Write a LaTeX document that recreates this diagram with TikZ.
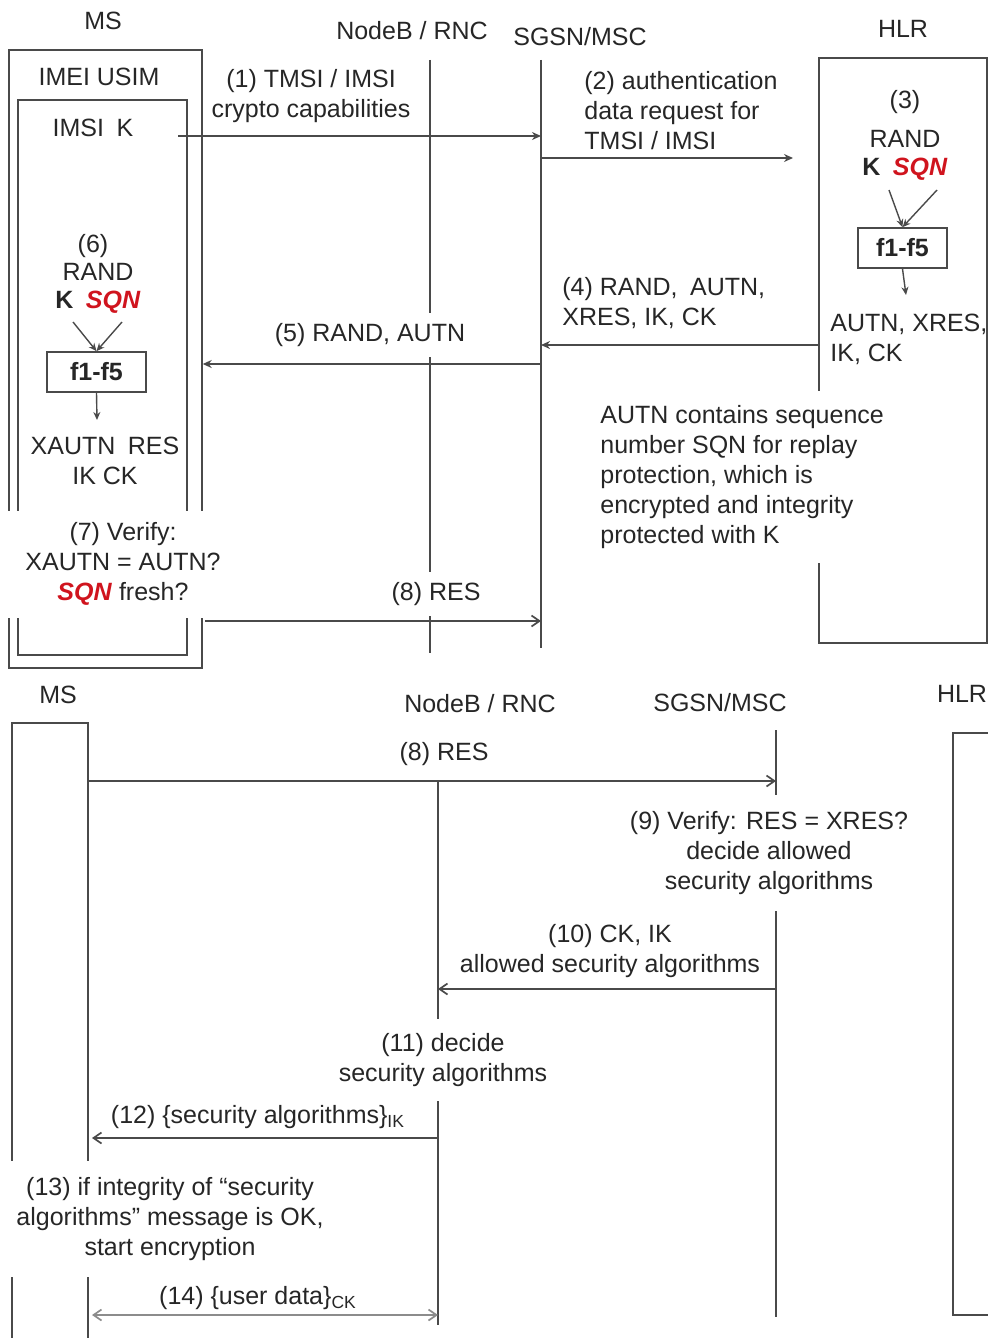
\documentclass[tikz,border=0pt]{standalone}
\usepackage{fontspec}
\setmainfont{Liberation Sans}
\usepackage{xcolor}
\usepackage{tikz}
\usetikzlibrary{arrows.meta,positioning}

\definecolor{sqnred}{HTML}{D0141E}
\definecolor{ink}{HTML}{262626}
\definecolor{wire}{HTML}{4A4A4A}
\newcommand{\SQNtxt}{\textcolor{sqnred}{\textbf{\textit{SQN}}}}

\begin{document}
\begin{tikzpicture}[
      x=0.5pt, y=-0.5pt,
      font=\fontsize{12.5}{15}\selectfont,
      text=ink,
      lbl/.style={align=center, inner sep=2pt},
      cover/.style={lbl, fill=white, inner xsep=4pt, inner ysep=5pt},
      box/.style={draw=wire, line width=0.85pt, inner sep=0pt},
      life/.style={draw=wire, line width=0.85pt},
      msg/.style={life, -{Stealth[length=4.5pt, width=4pt]}},
      msgo/.style={life, -{Straight Barb[length=4pt, width=5.5pt]}},
      conv/.style={life, line width=0.7pt, -{Stealth[length=4pt, width=3.5pt]}},
    ]
    \useasboundingbox (0,0) rectangle (987,1338);

    % --- upper part: boxes and lifelines ----------------------------------
    \node[box, anchor=north west, minimum width=96.5pt, minimum height=309pt]
          (msbox) at (8,49) {};
    \node[box, anchor=north west, minimum width=84.5pt, minimum height=277.5pt]
          (usim) at (17,99) {};
    \node[box, anchor=north west, minimum width=84pt, minimum height=292.5pt]
          (hlr) at (818,57) {};
    \coordinate (nbT) at (430,60);  \coordinate (nbB) at (430,653);
    \coordinate (sgT) at (541,60);  \coordinate (sgB) at (541,648);
    \draw[life] (nbT) -- (nbB);
    \draw[life] (sgT) -- (sgB);

    \node[lbl] (msA)  at (103,21) {MS};
    \node[lbl] (nbA)  at (412,31) {NodeB / RNC};
    \node[lbl] (sgA)  at (580,37) {SGSN/MSC};
    \node[lbl] (hlrA) at (903,29) {HLR};
    \node[lbl] (imei) at (99,77)  {IMEI USIM};
    \node[lbl] (imsi) at (93,128) {IMSI\enspace K};

    % --- HLR computes the vector ------------------------------------------
    \node[lbl] (h3)    at (905,102) {(3)};
    \node[lbl] (hrand) at (905,139) {RAND};
    \node[lbl] (hksqn) at (905,169) {\textbf{K}\enspace\SQNtxt};
    \node[box, minimum width=44.5pt, minimum height=20pt]
          (hf) at (902.5,248) {\textbf{f1-f5}};
    \coordinate (hkL) at (889,190);
    \coordinate (hkR) at (937,190);
    \coordinate (hdn) at (906,295);
    \draw[conv] (hkL) -- (hf.north);
    \draw[conv] (hkR) -- (hf.north);
    \draw[conv] (hf.south) -- (hdn);
    \node[lbl, align=left, anchor=west] (hout) at (826,339)
          {AUTN, XRES,\\IK, CK};

    % --- USIM computes its own values -------------------------------------
    \node[lbl] (m6)    at (93,246) {(6)};
    \node[lbl] (mrand) at (98,272) {RAND};
    \node[lbl] (mksqn) at (98,302) {\textbf{K}\enspace\SQNtxt};
    \node[box, minimum width=49.5pt, minimum height=20pt]
          (mf) at (96.5,372) {\textbf{f1-f5}};
    \coordinate (mkL) at (73,322);
    \coordinate (mkR) at (122,322);
    \coordinate (mdn) at (97,420);
    \draw[conv] (mkL) -- (mf.north);
    \draw[conv] (mkR) -- (mf.north);
    \draw[conv] (mf.south) -- (mdn);
    \node[lbl] (mout) at (105,461) {XAUTN\enspace RES\\IK CK};

    % --- messages, upper part ---------------------------------------------
    \coordinate (m1) at (178,136);
    \draw[msg] (m1) -- (m1 -| sgT);
    \node[lbl] (l1) at (311,96) {(1) TMSI / IMSI\\crypto capabilities};

    \coordinate (m2) at (541,158);  \coordinate (m2e) at (793,158);
    \draw[msg] (m2) -- (m2e);
    \node[lbl, align=left, anchor=west] (l2) at (580,111)
          {(2) authentication\\data request for\\TMSI / IMSI};

    \coordinate (m4) at (0,345);
    \draw[msg] (hlr.west |- m4) -- (m4 -| sgT);
    \node[lbl, align=left, anchor=west] (l4) at (558,303)
          {(4) RAND,\enspace AUTN,\\XRES, IK, CK};

    \coordinate (m5) at (0,364);
    \draw[msg] (m5 -| sgT) -- (m5 -| msbox.east);
    \node[cover] (l5) at (370,335) {(5) RAND, AUTN};

    \coordinate (m8) at (205,621);
    \draw[msgo] (m8) -- (m8 -| sgT);
    \node[cover] (l8) at (436,594) {(8) RES};

    \node[cover, inner xsep=10pt, inner ysep=6pt] (l7) at (123,564)
          {(7) Verify:\\XAUTN = AUTN?\\\SQNtxt\ fresh?};
    \node[cover, align=left, anchor=west, inner xsep=3pt, inner ysep=7pt]
          (note) at (594,477)
          {AUTN contains sequence\\number SQN for replay\\protection, which is\\
           encrypted and integrity\\protected with K};

    % --- lower part: boxes and lifelines ----------------------------------
    \node[box, anchor=north west, minimum width=38pt, minimum height=312pt]
          (msbox2) at (11,722) {};
    \node[box, anchor=north west, minimum width=30pt, minimum height=291pt]
          (hlr2) at (952,732) {};
    \coordinate (nbT2) at (438,733);  \coordinate (nbB2) at (438,1325);
    \coordinate (sgT2) at (776,730);  \coordinate (sgB2) at (776,1317);
    \draw[life] (nbT2) -- (nbB2);
    \draw[life] (sgT2) -- (sgB2);

    \node[lbl] (msB)  at (58,695)  {MS};
    \node[lbl] (nbB)  at (480,704) {NodeB / RNC};
    \node[lbl] (sgB)  at (720,703) {SGSN/MSC};
    \node[lbl] (hlrB) at (962,694) {HLR};

    % --- messages, lower part ---------------------------------------------
    \coordinate (n8) at (0,781);
    \draw[msgo] (n8 -| msbox2.east) -- (n8 -| sgT2);
    \node[cover, inner ysep=7pt] (k8) at (444,754) {(8) RES};

    \node[cover, inner ysep=8pt] (k9) at (769,853)
          {(9) Verify: RES = XRES?\\decide allowed\\security algorithms};

    \coordinate (n10) at (0,989);
    \draw[msgo] (n10 -| sgT2) -- (n10 -| nbT2);
    \node[lbl] (k10) at (610,951) {(10) CK, IK\\allowed security algorithms};

    \node[cover, inner ysep=7pt] (k11) at (443,1060)
          {(11) decide\\security algorithms};

    \coordinate (n12) at (92,1138);
    \draw[msgo] (n12 -| nbT2) -- (n12);
    \node[lbl] (k12) at (258,1117)
          {(12) \{security algorithms\}\textsubscript{IK}};

    \node[cover, inner xsep=5pt, inner ysep=8pt] (k13) at (170,1219)
          {(13) if integrity of “security\\algorithms” message is OK,\\
           start encryption};

    \coordinate (n14) at (92,1315);
    \draw[life, draw=black!45, {Straight Barb[length=4pt, width=5.5pt]}-{Straight Barb[length=4pt, width=5.5pt]}]
          (n14) -- (n14 -| nbT2);
    \node[lbl] (k14) at (258,1298) {(14) \{user data\}\textsubscript{CK}};
  \end{tikzpicture}
\end{document}
